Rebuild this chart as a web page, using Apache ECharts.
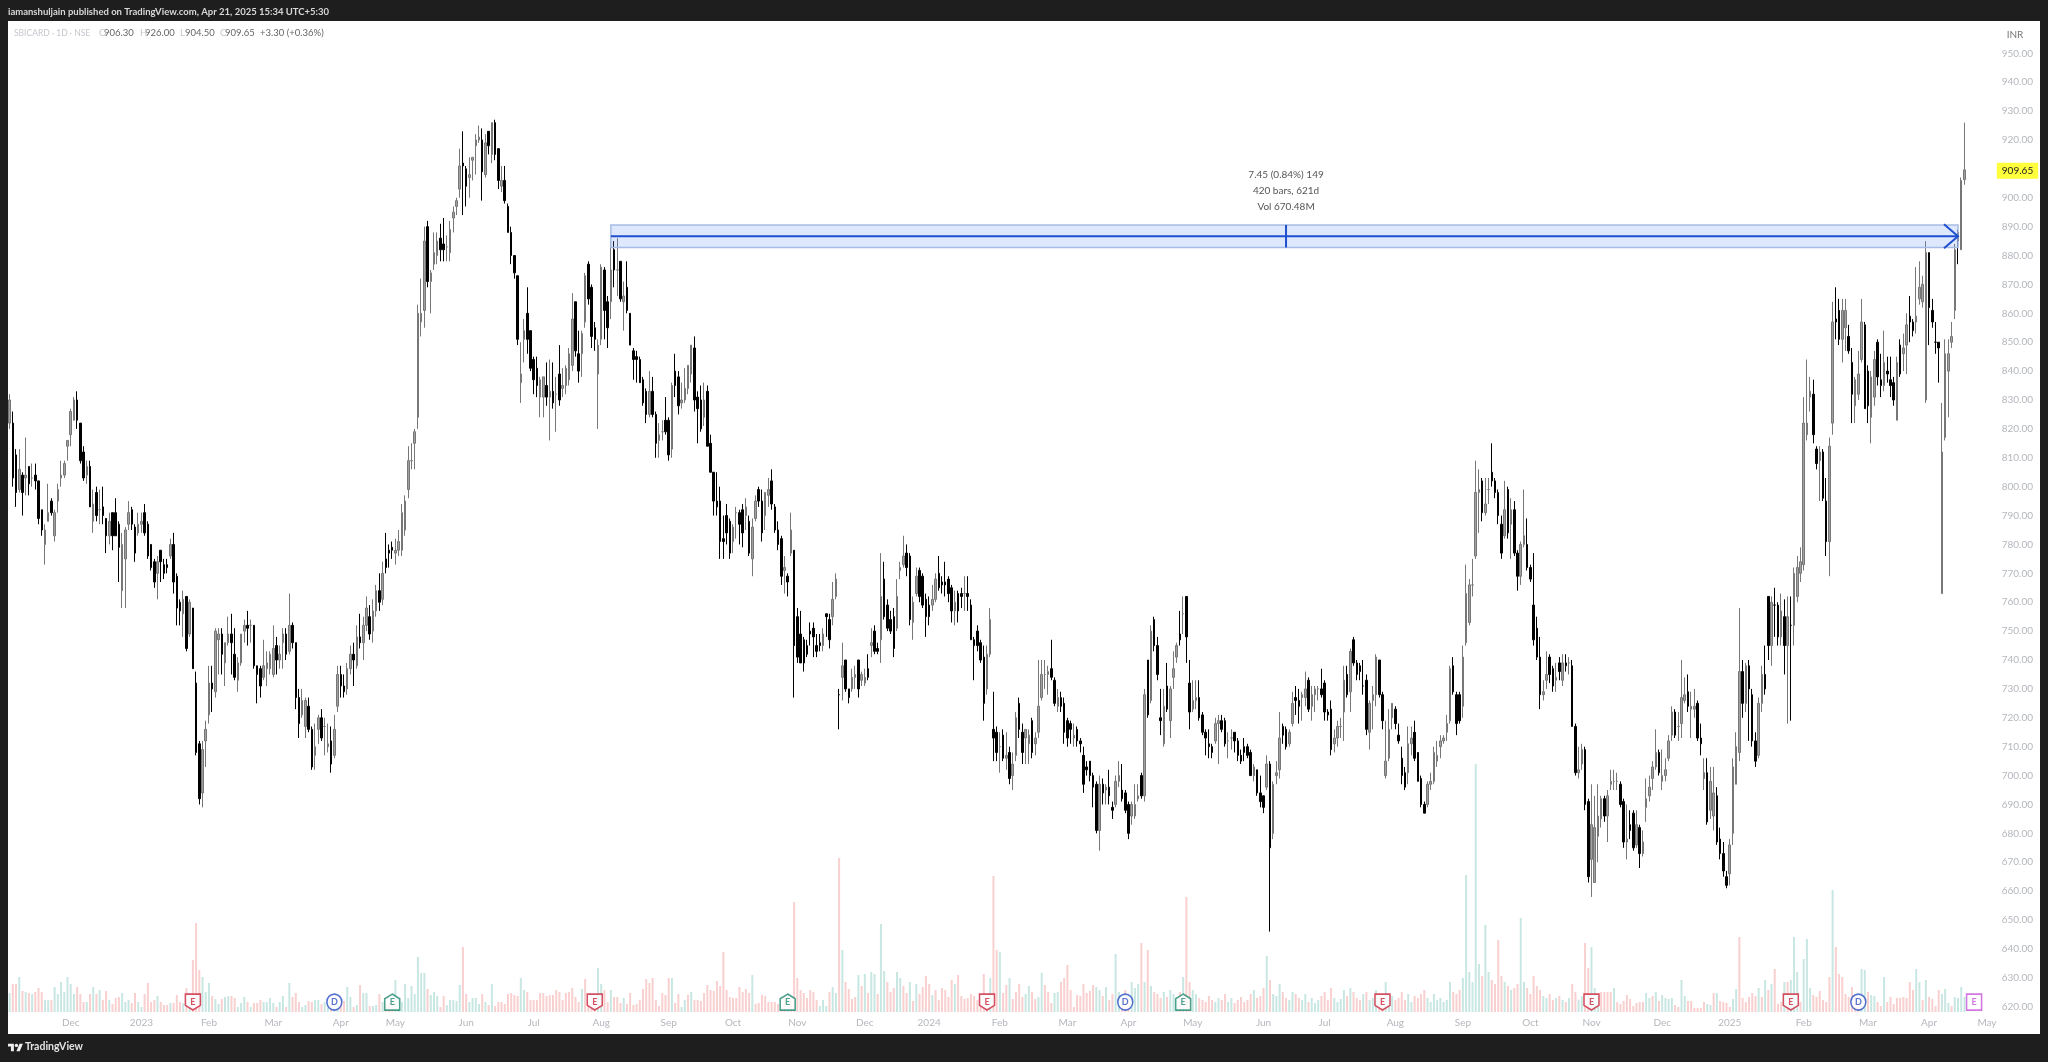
<!DOCTYPE html>
<html>
<head>
<meta charset="utf-8">
<title>SBICARD</title>
<script src="https://cdn.jsdelivr.net/npm/echarts@6/dist/echarts.min.js"></script>
<style>
  html, body { margin: 0; padding: 0; background: #1e1e1e; }
  #chart { width: 2048px; height: 1062px; }
</style>
</head>
<body>
<div id="chart"></div>
<script>
// rows are [open, close, low, high]
var barsLate2022 = [
[822,830,820,832],[822,803,800,826],[811,798,793,813],[799,806,798,813],[804,798,790,805],[803,804,797,817],[807,801,797,807],[803,803,800,808],[804,802,799,808],[802,789,787,802],
[792,785,783,792],[780,785,773,787],[788,791,788,801],[795,791,790,796],[783,791,781,792],[795,799,791,801],[803,804,800,809],[804,808,803,809],[814,816,809,816],[818,826,814,827],
[823,830,823,831],[830,823,820,833],[822,809,808,822],[812,803,802,814],[804,807,801,809],[807,793,793,809],[788,794,784,799],[798,790,788,800],[792,792,787,799],[793,790,787,800],
[789,783,777,789],[783,788,780,791],[791,783,778,791],[791,783,783,796],[787,779,767,788],[764,780,758,784],[775,785,758,786],[787,791,785,795],[792,787,785,793],[786,777,774,787],
[784,787,783,791],[787,788,784,791],[791,784,783,794],[787,776,775,788],[780,772,771,780],[774,767,765,775],[770,774,761,776],[778,774,767,778],[773,770,768,775],[773,772,770,775],
[776,780,775,782],[780,767,763,784],[769,758,752,770],[760,757,752,761],[756,761,748,764],[762,744,743,762],[749,760,748,761],[758,737,737,758],[732,708,707,736],[711,692,690,712],
[694,709,689,712],[712,716,703,719],[721,732,718,738],[732,730,722,738],[729,750,727,751],[747,749,735,751],[749,742,735,751],[739,746,731,746],[746,749,745,755],[749,746,735,756],
[742,734,733,751],[733,739,729,741],[739,749,738,749],[750,752,746,754],[752,751,745,757],[752,752,746,754],[752,738,737,752],[738,735,725,738],[737,731,727,738],[734,738,733,747],
[737,739,731,743],[737,742,735,743],[735,744,734,752],[745,740,735,748],[740,742,737,745],[746,749,737,751],[749,742,740,751],[743,752,742,763],[752,746,744,753],[746,727,723,746],
[727,718,713,730],[721,726,720,730],[717,726,713,727],[724,716,715,727],[716,703,702,717],[707,710,702,718],[716,720,711,721],[720,713,712,723],[717,717,707,720],[710,711,708,718],
[712,704,701,717],[707,716,706,721],[724,735,722,738]
];
var barsMid2023 = [
[735,731,727,738],[731,729,727,735],[730,737,728,739],[737,742,735,745],[742,740,731,746],[738,748,737,752],[748,746,744,756],[746,752,740,755],[752,758,750,762],[755,749,747,759],
[750,757,746,761],[757,764,755,766],[764,760,757,770],[761,770,759,774],[775,772,770,784],[778,777,772,780],[779,778,775,781],[777,778,773,782],[778,781,776,785],[778,791,776,794],
[785,795,783,797],[799,809,796,814],[809,809,806,815],[815,819,806,820],[824,860,820,863],[857,860,852,872],[861,885,855,890],[890,871,869,892],[871,874,860,875],[877,881,875,888],
[880,885,877,888],[886,882,878,891],[884,882,878,893],[883,883,878,887],[881,889,878,892],[893,895,888,897],[897,899,894,900],[903,911,900,917],[912,911,894,923],[910,904,897,911],
[907,908,900,914],[913,914,906,914],[918,920,908,922],[920,921,919,925],[920,909,899,924],[908,919,907,922],[923,918,915,923],[915,926,912,926],[926,915,913,927],[917,906,903,917],
[904,906,902,911],[906,899,898,911],[897,888,888,898],[888,880,877,890],[880,874,872,880],[873,851,849,873],[836,839,829,850],[851,854,843,858],[860,851,846,869],[854,841,840,854],
[844,837,832,845],[841,835,831,845],[831,837,824,838],[831,838,824,838],[835,831,828,843],[831,833,816,844],[833,829,827,843],[832,832,819,838],[839,830,828,849],[834,835,831,841],
[835,841,832,842],[837,846,835,848],[842,858,840,867],[864,847,845,864],[846,840,836,854],[846,853,838,854],[857,873,855,874],[877,865,863,878],[869,852,848,870],[855,851,847,857],
[839,849,820,851],[851,876,849,877],[875,861,851,876],[864,855,848,866],[864,875,858,885],[882,875,869,885],[875,875,866,886],[878,865,864,878],[864,866,854,871],[869,861,860,878],
[860,849,849,860],[847,844,837,848],[845,844,836,847],[844,836,836,845],[837,829,828,838],[833,825,822,834],[825,833,824,840],[833,825,824,838],[825,815,810,826],[816,818,810,822],
[819,819,816,823],[823,819,818,831],[823,811,809,824],[813,835,810,836],[840,835,831,846],[838,828,825,840]
];
var barsLate2023 = [
[829,830,827,836],[830,834,829,841],[834,842,832,842],[839,849,836,849],[848,830,826,852],[831,827,815,833],[830,820,819,835],[824,830,821,836],[833,814,814,835],[815,805,805,818],
[805,795,790,805],[795,793,790,805],[795,781,775,800],[782,781,775,790],[790,784,780,794],[788,777,775,789],[781,786,777,787],[791,791,782,793],[791,787,780,792],[792,784,779,794],
[790,793,785,796],[788,777,776,790],[775,786,769,789],[789,795,788,797],[799,795,793,800],[795,784,781,799],[790,798,785,798],[797,799,793,803],[802,794,792,806],[793,785,784,794],
[785,780,778,788],[782,769,766,783],[771,772,763,776],[769,767,762,770],[777,785,776,791],[778,745,727,778],[755,741,739,758],[749,739,739,757],[747,739,736,748],[745,742,741,747],
[750,749,745,753],[751,748,741,753],[745,743,741,749],[746,745,743,749],[745,749,743,751],[756,755,748,756],[754,747,744,756],[755,761,752,767],[762,768,761,770],[728,728,716,730],
[734,738,726,746],[740,730,729,740],[730,727,725,730],[730,734,729,737],[734,735,730,738],[740,730,727,740],[733,735,731,736],[732,734,731,737],[737,734,733,742],[745,746,741,751],
[750,743,742,752],[744,743,742,746],[747,762,739,777],[768,755,754,774],[759,751,750,761],[754,750,749,757],[755,744,741,758],[751,762,750,768],[771,772,768,774],[773,776,772,783],
[777,772,769,780],[776,754,752,777],[753,760,747,762],[763,769,762,772],[771,762,760,772],[769,759,758,770],[761,755,748,763],[759,755,752,762],[759,761,757,766],[761,768,760,770],
[770,765,764,776],[767,766,763,769],[767,766,762,774],[768,763,760,769],[765,757,753,766],[757,760,752,764],[763,757,753,764],[763,762,758,765],[763,763,757,769],[763,762,757,769],
[759,747,747,761],[747,745,733,748],[750,745,743,752],[746,740,739,747],[741,725,719,745],[730,742,728,745],[742,754,741,758],[716,713,705,729],[715,708,705,717],[710,710,701,715],
[714,706,705,716],[706,707,702,715],[708,699,697,710],[700,704,695,708],[707,720,705,722],[725,716,713,727]
];
var barsEarly2024 = [
[715,708,704,718],[713,716,704,716],[711,714,704,716],[719,708,706,720],[711,713,707,715],[715,724,713,740],[727,735,726,740],[735,735,730,740],[735,736,728,738],[737,734,733,747],
[733,725,724,734],[724,727,722,730],[727,724,722,729],[725,715,711,727],[719,713,710,720],[718,716,711,719],[713,714,710,718],[716,712,710,717],[712,711,708,713],[707,697,694,710],
[703,702,700,705],[705,700,698,705],[700,696,689,701],[697,681,680,698],[681,697,674,700],[697,694,690,699],[695,696,690,697],[696,693,690,702],[689,688,685,691],[690,698,689,700],
[698,700,696,705],[695,692,691,704],[694,688,687,695],[690,680,678,691],[686,690,683,691],[686,690,685,697],[692,693,691,697],[700,693,692,701],[693,728,691,730],[740,721,720,740],
[726,750,725,752],[754,745,743,755],[745,735,733,748],[720,719,714,730],[711,724,710,730],[731,723,722,739],[719,730,713,731],[734,737,730,743],[741,745,739,746],[749,747,745,757],
[756,756,749,762],[762,748,739,762],[732,722,716,740],[723,726,722,733],[726,727,723,733],[727,720,719,733],[721,715,714,722],[715,713,707,716],[711,710,706,716],[710,708,706,711],
[712,718,711,720],[718,719,704,721],[719,716,715,721],[719,711,710,720],[712,712,706,715],[713,713,709,716],[715,712,708,715],[712,707,705,713],[707,705,704,709],[710,708,705,713],
[710,707,706,711],[708,700,700,709],[700,703,698,704],[702,694,693,702],[694,691,689,700],[693,689,687,693],[696,704,695,707],[704,675,646,705],[680,697,678,698],[700,701,697,705],
[702,713,699,722],[717,714,711,718],[716,710,709,717],[711,715,710,716],[718,725,717,729],[727,726,721,731],[726,724,718,730],[727,728,719,729],[727,730,724,736],[733,723,722,734],
[724,728,719,731],[728,730,722,731],[730,730,726,731],[730,728,727,737],[732,722,719,733],[722,721,719,723],[723,709,707,726],[711,713,708,716],[713,717,710,719],[717,717,713,720],
[722,733,712,738],[735,728,727,738],[729,743,722,744],[747,739,738,748],[739,735,733,740],[738,736,733,739]
];
var barsLate2024 = [
[731,731,728,740],[733,716,714,735],[715,725,709,726],[726,728,716,731],[728,741,724,742],[740,728,727,740],[728,719,716,729],[700,705,699,719],[706,716,705,723],[720,725,716,725],
[723,718,716,724],[714,712,711,718],[706,700,697,710],[701,696,695,703],[701,711,697,717],[711,713,707,717],[715,706,705,719],[708,698,698,708],[699,690,689,700],[690,687,687,691],
[690,697,689,698],[697,698,695,701],[698,708,697,710],[705,707,703,712],[710,712,706,714],[712,713,711,714],[715,718,712,721],[719,737,718,738],[738,729,728,741],[728,718,714,729],
[728,719,718,729],[724,741,720,745],[746,763,745,773],[753,766,752,768],[766,766,762,775],[776,798,775,809],[798,799,784,806],[802,791,788,803],[791,794,790,803],[799,799,794,803],
[805,802,800,815],[802,798,796,803],[798,790,787,799],[787,777,775,790],[783,792,782,802],[799,784,782,800],[787,792,775,796],[792,777,776,795],[777,769,764,778],[769,780,766,781],
[780,783,779,799],[780,772,771,789],[772,768,767,773],[759,747,745,777],[751,741,740,755],[741,728,723,748],[728,729,726,733],[733,735,730,743],[741,735,732,742],[737,731,729,738],
[733,734,729,739],[739,736,733,741],[733,739,731,742],[739,738,736,742],[739,739,735,741],[738,717,717,740],[717,701,700,718],[701,702,699,710],[704,709,702,711],[709,690,688,710],
[691,665,663,692],[671,683,658,697],[663,682,663,693],[679,686,670,697],[685,692,682,693],[692,686,684,693],[686,693,677,695],[697,698,695,702],[698,698,695,702],[698,698,695,701],
[697,690,689,698],[691,677,675,692],[677,678,671,690],[683,681,678,688],[687,675,674,688],[676,683,675,688],[682,673,668,683],[673,677,672,681],[689,692,684,699],[693,696,691,700],
[699,703,695,705],[703,708,702,716],[708,701,700,709],[698,700,695,709],[700,702,698,706],[706,712,705,714],[714,722,712,724],[722,714,713,723],[717,717,712,722],[718,727,713,740],
[726,728,725,734],[729,724,722,735],[723,724,713,729],[723,724,720,730],[725,713,712,726]
];
var bars2025 = [
[713,711,707,718],[699,701,695,706],[701,684,683,706],[688,698,685,703],[686,694,681,703],[693,677,676,696],[678,673,671,682],[673,667,665,677],[665,662,661,667],[666,676,662,678],
[680,703,676,706],[697,710,697,715],[708,736,705,758],[736,725,720,740],[725,738,722,739],[738,730,712,740],[728,712,710,730],[712,705,703,715],[707,725,706,727],[725,735,722,738],
[735,730,728,745],[762,745,740,762],[745,760,738,762],[759,759,748,765],[759,748,745,760],[748,757,745,763],[755,745,735,761],[745,755,718,762],[752,752,719,762],[752,770,745,772],
[762,772,760,776],[770,774,767,779],[773,822,771,831],[818,822,816,844],[831,833,826,838],[832,818,815,837],[813,808,806,814],[809,812,795,814],[812,796,795,813],[795,781,776,803],
[781,814,769,817],[822,857,818,864],[858,857,851,869],[861,851,849,865],[851,861,843,865],[855,861,847,865],[852,847,846,856],[843,832,822,848],[828,837,822,838],[832,839,830,847],
[844,857,843,865],[856,827,827,857],[840,828,822,842],[824,838,815,840],[831,844,828,847],[850,838,835,851],[837,835,831,846],[835,843,833,854],[840,839,836,845],[837,835,831,845],
[836,830,828,838],[823,843,823,845],[849,839,838,851],[846,848,840,853],[849,856,839,860],[859,857,850,866],[857,854,852,858],[857,859,853,876],[865,869,863,878],[864,870,862,873],
[830,881,829,885],[881,862,849,881],[861,857,855,865],[850,850,846,857],[850,848,836,850],[763,812,763,829],[817,846,816,851],[840,846,824,851],[850,852,848,857],[861,882,858,884],
[888,885,877,889],[882,906,882,907],[906.3,909.65,904.5,926]
];

// bar heights of the volume pane, relative units
var volumes2022 = [
19,28,28,35,21,20,19,18,20,24, 20,12,12,12,25,18,30,20,35,28, 18,25,18,10,10,18,25,18,22,12,
21,12,8,14,15,19,10,12,9,19, 10,5,18,29,10,12,16,10,7,7, 9,9,17,10,9,24,19,52,89,42,
35,20,29,16,13,8,13,15,16,16, 14,5,9,15,10,5,9,9,12,10, 10,14,9,5,10,16,5,29,15,19,
10,5,7,11,10,12,12,8,10,9, 8,6,9,12,11,25,15,5,7,27, 19,19,6,6,7,18,10,8,9,12,
32,14,10,28,14,26,18,55,39,39, 23,17,20,16,5,16,7,12,12,11, 27,65,18,10,14,14,8,18,10,7,
28,6,10
];
var volumes2023 = [
10,8,18,19,17,16,34,22,20,12, 12,12,19,19,16,17,17,22,20,12, 19,20,24,15,10,23,33,10,17,10,
44,28,22,10,22,15,15,9,14,8, 19,7,8,12,23,33,29,34,12,6, 19,17,34,34,9,18,5,12,17,20,
12,12,11,19,27,22,21,31,26,60, 22,15,14,14,25,20,23,19,37,8, 9,17,16,10,10,10,8,5,15,18,
12,110,34,22,19,14,22,20,12,6, 12,6,20,25,19,154,62,30,23,13, 15,37,26,38,19,40,38,18,88,41,
30,20,24,40,34,26,19,30,11,28, 18,25,36,28,17,22,12,24,22,15, 32,28,37,16,13,14,18,16,12,13,
38,10,34,136,62,60,19,27,34,13, 20,28,15,18,26,20,13,15,39,27, 20,9,19,20,30,34,47,22,5,17,
16,28,19,21,27,25
];
var volumes2024 = [
22,16,25,12,18,58,20,14,22,10, 30,24,28,69,30,62,26,20,18,14, 20,15,22,18,12,20,35,115,30,22,
18,14,12,10,16,12,10,14,12,18, 10,14,9,12,15,10,12,18,22,14, 16,24,56,32,18,16,28,20,14,12,
20,18,14,12,18,10,14,9,12,16, 20,12,24,14,10,13,22,16,24,20, 14,12,18,20,12,14,22,16,18,30,
14,16,12,14,20,12,18,10,16,14, 18,22,14,10,18,12,14,10,12,30, 20,18,22,34,137,40,30,248,48,36,
87,40,32,28,72,36,30,26,22,24, 28,94,30,24,18,36,26,22,16,14, 18,12,14,16,12,10,14,28,20,12,
16,69,44,65,24,18
];
var volumes2025 = [
20,20,20,20,24,10,8,11,17,13, 6,9,10,10,19,14,16,20,11,17, 14,13,14,7,5,32,16,11,11,4,
4,4,10,8,7,19,19,11,10,9, 5,13,23,75,14,10,15,19,16,24, 15,32,22,28,43,8,10,30,30,32,
75,40,10,53,73,24,17,15,21,12, 10,35,122,65,38,35,18,15,25,16, 10,43,42,20,17,16,10,6,35,10,
15,8,14,14,15,14,30,22,43,30, 12,32,15,13,6,22,18,23,9,6, 15,14,25,15
];
// volume bars that are teal in the picture, where the pale colour could be read directly
var tealMid = [159,160,178,183,184,187,191,206,209,210,212,231,242,252,253,254,256,257,259,264,266,268,269,271,272,276,277,280,282,287,294,305,308,311,316,317,320,321,325,326,338];
var tealEnd = [499,509,510,512,514,515,516,517,520,521,528,529,531,536,537,544,546,548,552,554,555,556,558,559,560,567,576,577,579,580,583,593,594,596,601,602,603,605,606,607,608];

var barSlots = 632; // bars plus the empty space right of the last one
var timeLabels = ['Dec','2023','Feb','Mar','Apr','May','Jun','Jul','Aug','Sep','Oct','Nov','Dec','2024','Feb','Mar','Apr','May','Jun','Jul','Aug','Sep','Oct','Nov','Dec','2025','Feb','Mar','Apr','May'];
var timeLabelBars = [19,41,62,82,103,120,142,163,184,205,225,245,266,286,308,329,348,368,390,409,431,452,473,492,514,535,558,578,597,615];
var priceTicks = [620,630,640,650,660,670,680,690,700,710,720,730,740,750,760,770,780,790,800,810,820,830,840,850,860,870,880,890,900,920,930,940,950];
var lastBar = 608;
var lastPrice = 909.65;

var eventBars = [57,101,119,182,242,304,347,365,427,492,554,575,611];
var eventKinds = ['earnRed','div','earnGreen','earnRed','earnGreen','earnRed','div','earnGreen','earnRed','earnRed','earnRed','div','earnNext'];
var eventLevel = 621.6;

var measureBars = [187, 606];
var measurePrices = [882.8, 890.6];
var measureText = ['7.45 (0.84%) 149', '420 bars, 621d', 'Vol 670.48M'];

var legendPrefix = ['SBICARD · 1D · NSE', 'O', 'H', 'L', 'C'];
var legendValues = ['906.30', '926.00', '904.50', '909.65', '+3.30 (+0.36%)'];

var candles = barsLate2022.concat(barsMid2023, barsLate2023, barsEarly2024, barsLate2024, bars2025);
var volumes = volumes2022.concat(volumes2023, volumes2024, volumes2025);

var font = 'Lato, sans-serif';
var axisGrey = '#b4b7bd';

var categories = [];
for (var i = 0; i < barSlots; i++) {
  var k = timeLabelBars.indexOf(i);
  categories.push(k >= 0 ? timeLabels[k] : '');
}

function isTeal(i) {
  if (i >= 153 && i <= 338) return tealMid.indexOf(i) >= 0;
  if (i >= 495) return tealEnd.indexOf(i) >= 0;
  return candles[i][1] >= candles[i][0];
}

var eventStyle = {
  earnRed: { color: '#c9263c', symbol: 'path://M0 0H16V12L8 17L0 12Z', text: 'E' },
  earnGreen: { color: '#1f8a70', symbol: 'path://M8 0L16 5V17H0V5Z', text: 'E' },
  div: { color: '#2a4fc4', symbol: 'circle', text: 'D' },
  earnNext: { color: '#c855d8', symbol: 'rect', text: 'E' }
};
var eventData = eventBars.map(function (b, n) {
  var s = eventStyle[eventKinds[n]];
  return {
    value: [b, eventLevel],
    symbol: s.symbol,
    itemStyle: { color: '#fff', borderColor: s.color, borderWidth: 1.6 },
    label: { show: true, formatter: s.text, color: s.color, fontSize: 9, fontFamily: font, fontWeight: 'bold' }
  };
});

function drawMeasure(params, api) {
  var a = api.coord([api.value(0), api.value(2)]);
  var b = api.coord([api.value(1), api.value(3)]);
  var midBar = Math.round((api.value(0) + api.value(1)) / 2);
  var midX = api.coord([midBar, api.value(2)])[0];
  var midY = (a[1] + b[1]) / 2;
  var blue = '#1f4fd0';
  var kids = [
    { type: 'rect', shape: { x: a[0], y: b[1], width: b[0] - a[0], height: a[1] - b[1] },
      style: { fill: 'rgba(90,140,240,0.2)', stroke: '#a6bce4', lineWidth: 1.5 } },
    { type: 'line', shape: { x1: a[0], y1: midY, x2: b[0], y2: midY }, style: { stroke: blue, lineWidth: 2 } },
    { type: 'line', shape: { x1: midX, y1: b[1], x2: midX, y2: a[1] }, style: { stroke: blue, lineWidth: 2 } },
    { type: 'polyline', shape: { points: [[b[0] - 14, midY - 12], [b[0], midY], [b[0] - 14, midY + 12]] },
      style: { stroke: blue, lineWidth: 2, fill: 'none' } }
  ];
  measureText.forEach(function (t, n) {
    kids.push({ type: 'text', x: midX, y: b[1] - 50 + n * 16,
      style: { text: t, fill: '#555', font: '10px ' + font, align: 'center', verticalAlign: 'middle' } });
  });
  return { type: 'group', children: kids };
}

// yellow last price tag on the price scale
function drawLastPrice(params, api) {
  var p = api.coord([api.value(0), api.value(1)]);
  return { type: 'text', x: 2017.5, y: p[1] + 1,
    style: { text: api.value(1).toFixed(2), fill: '#222', font: '10px ' + font, align: 'center', verticalAlign: 'middle',
      backgroundColor: '#ffff3b', padding: [3, 5, 3, 5] } };
}

var legendPrefixX = [14, 99, 140, 180, 220];
var legendValueX = [104, 145, 185, 225, 260];
var headerText = [
  { type: 'rect', z: -10, shape: { x: 8, y: 21, width: 2032, height: 1013 }, style: { fill: '#fff' } },
  { type: 'text', x: 8, y: 12, style: { text: 'iamanshuljain published on TradingView.com, Apr 21, 2025 15:34 UTC+5:30', fill: '#d8d8d8', font: 'bold 9.5px ' + font, verticalAlign: 'middle' } },
  { type: 'text', x: 2015, y: 35, style: { text: 'INR', fill: '#777', font: '10px ' + font, align: 'center', verticalAlign: 'middle' } },
  // TradingView mark
  { type: 'polygon', x: 8, y: 1042, scaleX: 0.42, scaleY: 0.42, shape: { points: [[14,22],[7,22],[7,11],[0,11],[0,4],[14,4]] }, style: { fill: '#eee' } },
  { type: 'polygon', x: 8, y: 1042, scaleX: 0.42, scaleY: 0.42, shape: { points: [[28,22],[20,22],[27.5,4],[35.5,4]] }, style: { fill: '#eee' } },
  { type: 'circle', x: 16.4, y: 1045.4, shape: { r: 1.7 }, style: { fill: '#eee' } },
  { type: 'text', x: 25, y: 1047, style: { text: 'TradingView', fill: '#e4e4e4', font: 'bold 10.5px ' + font, verticalAlign: 'middle' } }
];
legendPrefix.forEach(function (t, n) {
  headerText.push({ type: 'text', x: legendPrefixX[n], y: 33, style: { text: t, fill: '#c4c7cd', font: (n === 0 ? '8.5px ' : '9.5px ') + font, verticalAlign: 'middle' } });
  headerText.push({ type: 'text', x: legendValueX[n], y: 33, style: { text: legendValues[n], fill: '#666', font: '9.5px ' + font, verticalAlign: 'middle' } });
});

var myChart = echarts.init(document.getElementById('chart'));
myChart.setOption({
  animation: false,
  backgroundColor: '#1e1e1e',
  graphic: headerText,
  grid: [
    { left: 8, width: 2032, top: 24.4, height: 1011.2 },
    { left: 8, width: 2032, top: 700, height: 312 }
  ],
  xAxis: [
    { type: 'category', gridIndex: 0, data: categories, show: false },
    { type: 'category', gridIndex: 1, data: categories,
      axisLine: { show: false }, axisTick: { show: false }, splitLine: { show: false },
      axisLabel: {
        color: axisGrey, fontSize: 10, fontFamily: font, margin: 6,
        interval: function (idx, val) { return val !== ''; }
      } }
  ],
  yAxis: [
    { type: 'value', gridIndex: 0, position: 'right', min: 610, max: 960, scale: true,
      axisLine: { show: false }, axisTick: { show: false }, splitLine: { show: false },
      axisLabel: {
        inside: true, margin: 7, color: axisGrey, fontSize: 10, fontFamily: font,
        customValues: priceTicks,
        formatter: function (v) { return v.toFixed(2); }
      } },
    { type: 'value', gridIndex: 1, min: 0, max: 312, show: false }
  ],
  series: [
    { name: 'Volume', type: 'bar', xAxisIndex: 1, yAxisIndex: 1, data: volumes, barWidth: 2, z: 1, large: false,
      itemStyle: {
        color: function (p) { return isTeal(p.dataIndex) ? '#c9e7e2' : '#f9d0d0'; }
      } },
    // large mode would drop the candle bodies at this many bars
    { name: 'SBICARD', type: 'candlestick', xAxisIndex: 0, yAxisIndex: 0, data: candles, barWidth: 2, z: 3, large: false,
      itemStyle: { color: '#a0a0a0', color0: '#000', borderColor: '#777', borderColor0: '#000', borderWidth: 1 } },
    { name: 'Events', type: 'scatter', xAxisIndex: 0, yAxisIndex: 0, data: eventData, symbolSize: [15, 16], z: 4 },
    { name: 'Measure', type: 'custom', xAxisIndex: 0, yAxisIndex: 0, z: 5, silent: true, clip: false,
      renderItem: drawMeasure,
      data: [[measureBars[0], measureBars[1], measurePrices[0], measurePrices[1]]] },
    { name: 'Last', type: 'custom', xAxisIndex: 0, yAxisIndex: 0, z: 6, silent: true, clip: false,
      renderItem: drawLastPrice,
      data: [[lastBar, lastPrice]] }
  ]
});
</script>
</body>
</html>
